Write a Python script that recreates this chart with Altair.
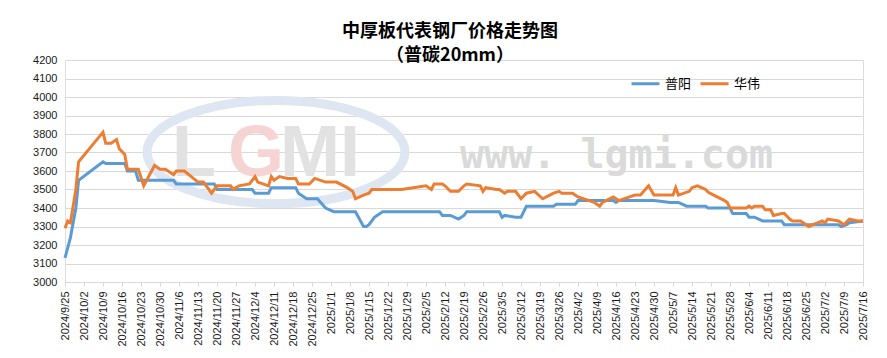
import altair as alt
import pandas as pd

# ---------------- data ----------------
series_names = ["普阳", "华伟"]
series_colors = ["#5B9BD5", "#ED7D31"]

py_dates = [
    "2024-09-25", "2024-09-27", "2024-09-29", "2024-09-30", "2024-10-09", "2024-10-10",
    "2024-10-17", "2024-10-18", "2024-10-21", "2024-10-22", "2024-11-04", "2024-11-05",
    "2024-11-19", "2024-11-20", "2024-12-03", "2024-12-04", "2024-12-09", "2024-12-10",
    "2024-12-19", "2024-12-20", "2024-12-23", "2024-12-27", "2024-12-30", "2025-01-02",
    "2025-01-10", "2025-01-13", "2025-01-14", "2025-01-15", "2025-01-17", "2025-01-20",
    "2025-02-10", "2025-02-11", "2025-02-14", "2025-02-17", "2025-02-19", "2025-02-20",
    "2025-03-04", "2025-03-05", "2025-03-06", "2025-03-10", "2025-03-12", "2025-03-14",
    "2025-03-24", "2025-03-25", "2025-04-01", "2025-04-02", "2025-04-15", "2025-04-16",
    "2025-04-17", "2025-04-30", "2025-05-06", "2025-05-09", "2025-05-12", "2025-05-19",
    "2025-05-20", "2025-05-28", "2025-05-29", "2025-06-03", "2025-06-04", "2025-06-06",
    "2025-06-09", "2025-06-16", "2025-06-17", "2025-07-07", "2025-07-08", "2025-07-10",
    "2025-07-11", "2025-07-16",
]
py_values = [
    3130, 3240, 3400, 3550, 3650, 3640,
    3640, 3600, 3600, 3550, 3550, 3530,
    3530, 3500, 3500, 3480, 3480, 3510,
    3510, 3480, 3450, 3450, 3400, 3380,
    3380, 3300, 3300, 3310, 3350, 3380,
    3380, 3360, 3360, 3340, 3360, 3380,
    3380, 3350, 3360, 3350, 3350, 3410,
    3410, 3420, 3420, 3440, 3440, 3430,
    3440, 3440, 3430, 3430, 3410, 3410,
    3400, 3400, 3370, 3370, 3350, 3350,
    3330, 3330, 3310, 3310, 3300, 3310,
    3320, 3330,
]

hw_dates = [
    "2024-09-25", "2024-09-26", "2024-09-27", "2024-09-29", "2024-09-30", "2024-10-09",
    "2024-10-10", "2024-10-12", "2024-10-14", "2024-10-15", "2024-10-17", "2024-10-18",
    "2024-10-22", "2024-10-24", "2024-10-28", "2024-10-30", "2024-11-01", "2024-11-04",
    "2024-11-05", "2024-11-08", "2024-11-13", "2024-11-15", "2024-11-18", "2024-11-20",
    "2024-11-25", "2024-11-26", "2024-11-28", "2024-12-02", "2024-12-04", "2024-12-05",
    "2024-12-09", "2024-12-10", "2024-12-11", "2024-12-13", "2024-12-16", "2024-12-19",
    "2024-12-20", "2024-12-24", "2024-12-26", "2024-12-30", "2025-01-03", "2025-01-07",
    "2025-01-09", "2025-01-10", "2025-01-13", "2025-01-15", "2025-01-16", "2025-01-27",
    "2025-02-05", "2025-02-07", "2025-02-08", "2025-02-11", "2025-02-12", "2025-02-14",
    "2025-02-17", "2025-02-19", "2025-02-20", "2025-02-25", "2025-02-26", "2025-02-27",
    "2025-03-03", "2025-03-04", "2025-03-06", "2025-03-07", "2025-03-10", "2025-03-12",
    "2025-03-14", "2025-03-17", "2025-03-20", "2025-03-24", "2025-03-26", "2025-03-27",
    "2025-03-31", "2025-04-02", "2025-04-08", "2025-04-10", "2025-04-11", "2025-04-15",
    "2025-04-17", "2025-04-21", "2025-04-23", "2025-04-25", "2025-04-28", "2025-04-30",
    "2025-05-07", "2025-05-08", "2025-05-09", "2025-05-13", "2025-05-14", "2025-05-16",
    "2025-05-19", "2025-05-20", "2025-05-22", "2025-05-26", "2025-05-27", "2025-05-28",
    "2025-06-03", "2025-06-04", "2025-06-05", "2025-06-06", "2025-06-09", "2025-06-10",
    "2025-06-12", "2025-06-13", "2025-06-16", "2025-06-17", "2025-06-19", "2025-06-20",
    "2025-06-23", "2025-06-26", "2025-07-01", "2025-07-02", "2025-07-03", "2025-07-07",
    "2025-07-09", "2025-07-11", "2025-07-14", "2025-07-16",
]
hw_values = [
    3290, 3330, 3320, 3500, 3650, 3810,
    3750, 3750, 3770, 3720, 3690, 3610,
    3610, 3520, 3630, 3610, 3610, 3580,
    3600, 3600, 3540, 3540, 3480, 3520,
    3520, 3500, 3520, 3530, 3570, 3540,
    3520, 3570, 3550, 3570, 3560, 3560,
    3530, 3530, 3560, 3540, 3540, 3510,
    3490, 3450, 3470, 3480, 3500, 3500,
    3520, 3500, 3530, 3530, 3520, 3490,
    3490, 3520, 3530, 3520, 3490, 3510,
    3500, 3500, 3480, 3490, 3490, 3450,
    3480, 3490, 3450, 3480, 3490, 3480,
    3480, 3460, 3430, 3410, 3430, 3460,
    3440, 3460, 3470, 3470, 3520, 3470,
    3470, 3510, 3470, 3490, 3510, 3520,
    3500, 3485, 3470, 3440, 3430, 3400,
    3400, 3410, 3400, 3410, 3410, 3390,
    3390, 3360, 3370, 3370, 3340, 3330,
    3330, 3300, 3330, 3320, 3340, 3330,
    3310, 3340, 3330, 3330,
]

x_start = "2024-09-25"
x_end = "2025-07-16"
y_ticks = list(range(3000, 4201, 100))

title_text = "中厚板代表钢厂价格走势图"
subtitle_text = "（普碳20mm）"
watermark_text = "www. lgmi.com"

# ---------------- build ----------------
df = pd.concat([
    pd.DataFrame({"date": py_dates, "value": py_values, "series": series_names[0]}),
    pd.DataFrame({"date": hw_dates, "value": hw_values, "series": series_names[1]}),
], ignore_index=True)


def dt(s):
    t = pd.Timestamp(s)
    return alt.DateTime(year=t.year, month=t.month, date=t.day, utc=True)


tick_dates = pd.date_range(x_start, x_end, freq="7D")
x_tick_values = [dt(d) for d in tick_dates]

AX_FONT = "Liberation Sans"
CJK = "Noto Sans CJK SC"
GRID = "#d9d9d9"

x_enc = alt.X(
    "date:T",
    scale=alt.Scale(type="utc", domain=[dt(x_start), dt(x_end)], nice=False),
    axis=alt.Axis(
        title=None, values=x_tick_values, format="%Y/%-m/%-d", labelAngle=270,
        labelFont=AX_FONT, labelFontSize=11, labelColor="#1a1a1a",
        labelOverlap=False, labelBound=False, labelFlush=False,
        grid=False, domainColor=GRID, tickColor=GRID, tickSize=4, labelPadding=5,
    ),
)
y_enc = alt.Y(
    "value:Q",
    scale=alt.Scale(domain=[3000, 4200], nice=False, zero=False),
    axis=alt.Axis(
        title=None, values=y_ticks, format="d", labelFont=AX_FONT, labelFontSize=11,
        labelColor="#1a1a1a", domain=False, ticks=False, labelPadding=8,
        gridColor=GRID, gridWidth=1,
    ),
)

lines = alt.Chart(df).mark_line(strokeWidth=3).encode(
    x=x_enc,
    y=y_enc,
    color=alt.Color(
        "series:N",
        scale=alt.Scale(domain=series_names, range=series_colors),
        sort=series_names,
        legend=alt.Legend(
            title=None, orient="none", legendX=565, legendY=8, direction="horizontal",
            symbolType="stroke", symbolSize=784, symbolStrokeWidth=3,
            labelFont=CJK, labelFontSize=13, labelColor="#000000",
            labelOffset=4, columnPadding=2,
        ),
    ),
)

one = pd.DataFrame({"k": [0]})

ellipse = alt.Chart(one).mark_point(
    shape="M -1 0 A 1 0.4 0 1 1 1 0 A 1 0.4 0 1 1 -1 0 Z",
    size=258 ** 2, filled=False, stroke="#dde6f1", strokeWidth=9, opacity=1,
).encode(x=alt.value(211), y=alt.value(92))

logo_l = alt.Chart(one).mark_text(
    text="L", font="Liberation Sans", fontWeight="bold", fontSize=72,
    color="#e2e2e2", align="left", baseline="alphabetic",
).encode(x=alt.value(107), y=alt.value(116))
logo_g = alt.Chart(one).mark_text(
    text="G", font="Liberation Sans", fontWeight="bold", fontSize=72,
    color="#f7d4d4", align="left", baseline="alphabetic",
).encode(x=alt.value(163), y=alt.value(116))
logo_mi = alt.Chart(one).mark_text(
    text="MI", font="Liberation Sans", fontWeight="bold", fontSize=72,
    color="#e2e2e2", align="left", baseline="alphabetic",
).encode(x=alt.value(215), y=alt.value(116))

watermark = alt.Chart(one).mark_text(
    text=watermark_text, font="DejaVu Sans Mono", fontWeight="bold", fontSize=40,
    color="#dadada", align="left", baseline="alphabetic",
).encode(x=alt.value(395), y=alt.value(108))

chart = alt.layer(ellipse, logo_l, logo_g, logo_mi, watermark, lines).properties(
    width=798,
    height=222,
    title=alt.TitleParams(
        text=title_text, subtitle=subtitle_text,
        font=CJK, fontSize=18, fontWeight="bold", color="#000000",
        subtitleFont=CJK, subtitleFontSize=18, subtitleFontWeight="bold",
        subtitleColor="#000000", anchor="middle", dx=-14, offset=-11, subtitlePadding=6,
    ),
    autosize=alt.AutoSizeParams(type="none"),
    padding={"left": 57, "top": 52, "right": 14, "bottom": 66},
).configure_view(stroke=None).configure(background="white")

chart.save("out.html", embed_options={"renderer": "svg", "actions": False})
